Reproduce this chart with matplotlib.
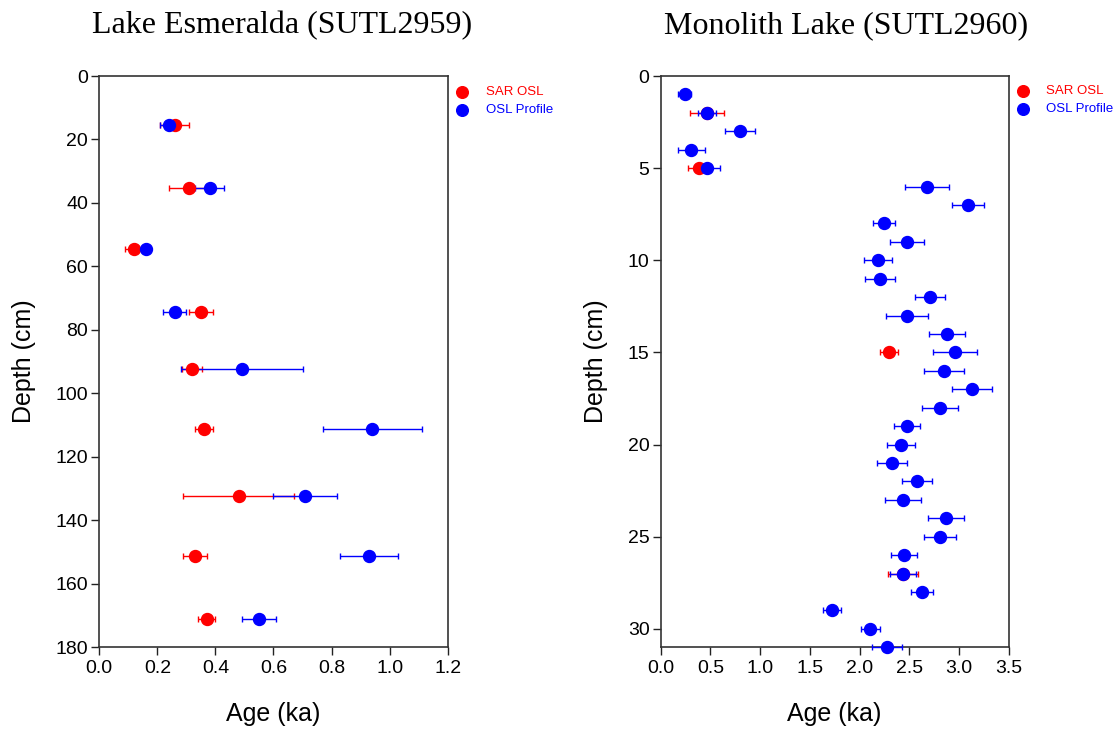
"""
Lake Esmeralda / Monolith Lake OSL ages vs depth
"""

import matplotlib
matplotlib.use("Agg")
import matplotlib.pyplot as plt

# Lake Esmeralda (SUTL2959)
esm_depth = [15.5, 35.4, 54.5, 74.5, 92.4, 111.3, 132.2, 151.2, 171.2]
esm_sar_age = [0.26, 0.31, 0.12, 0.35, 0.32, 0.36, 0.48, 0.33, 0.37]
esm_sar_err = [0.05, 0.07, 0.03, 0.04, 0.035, 0.03, 0.19, 0.04, 0.03]
esm_prof_age = [0.24, 0.38, 0.16, 0.26, 0.49, 0.94, 0.71, 0.93, 0.55]
esm_prof_err = [0.03, 0.05, 0.005, 0.04, 0.21, 0.17, 0.11, 0.10, 0.06]

# Monolith Lake (SUTL2960)
mon_prof_depth = list(range(1, 32))
mon_prof_age = [0.24, 0.47, 0.80, 0.31, 0.47, 2.68, 3.09, 2.25, 2.48, 2.19,
                2.21, 2.71, 2.48, 2.88, 2.96, 2.85, 3.13, 2.81, 2.48, 2.42,
                2.33, 2.58, 2.44, 2.87, 2.81, 2.45, 2.44, 2.63, 1.72, 2.11,
                2.28]
mon_prof_err = [0.07, 0.09, 0.15, 0.14, 0.13, 0.22, 0.16, 0.11, 0.17, 0.14,
                0.15, 0.15, 0.21, 0.18, 0.22, 0.20, 0.20, 0.18, 0.13, 0.14,
                0.15, 0.15, 0.18, 0.18, 0.16, 0.13, 0.13, 0.11, 0.09, 0.10,
                0.15]
mon_sar_depth = [2, 5, 15, 27]
mon_sar_age = [0.47, 0.39, 2.30, 2.44]
mon_sar_err = [0.17, 0.11, 0.09, 0.15]


def draw_panel(ax, sar, prof, xlim, xticks, ylim, yticks, xfmt):
    ms = 8.6
    for (age, depth, err), col in ((sar, "#ff0000"), (prof, "#0000ff")):
        ax.errorbar(age, depth, xerr=err, fmt="o", color=col, ms=ms,
                    mec=col, ecolor=col, elinewidth=1.0, capsize=2.4,
                    capthick=1.0, clip_on=False, zorder=3)
    ax.set_xlim(*xlim)
    ax.set_ylim(*ylim)
    ax.set_xticks(xticks)
    ax.set_xticklabels([xfmt.format(t) for t in xticks])
    ax.set_yticks(yticks)
    ax.tick_params(direction="out", length=6, width=1.0, labelsize=14,
                   colors="#222222", labelcolor="black")
    ax.tick_params(axis="y", pad=2)
    for sp in ax.spines.values():
        sp.set_linewidth(1.2)
        sp.set_color("#333333")
    ax.set_xlabel("Age (ka)", fontsize=18, labelpad=18)
    ax.set_ylabel("Depth (cm)", fontsize=18, labelpad=14)


def add_legend(fig, x_marker, x_text, y_top, y_bot):
    for y, col, lab in ((y_top, "#ff0000", "SAR OSL"),
                        (y_bot, "#0000ff", "OSL Profile")):
        fig.lines.append(plt.Line2D([x_marker], [y], marker="o", ms=8.4,
                                    color=col, transform=fig.transFigure,
                                    figure=fig))
        fig.text(x_text, y, lab, color=col, fontsize=9.5, va="center",
                 ha="left")


def main():
    plt.rcParams["font.family"] = ["Liberation Sans", "DejaVu Sans"]
    fig = plt.figure(figsize=(11.19, 7.31), dpi=100)

    ax1 = fig.add_axes([0.0887, 0.1145, 0.3114, 0.7815])
    ax2 = fig.add_axes([0.5904, 0.1145, 0.3110, 0.7815])

    draw_panel(ax1, (esm_sar_age, esm_depth, esm_sar_err),
               (esm_prof_age, esm_depth, esm_prof_err),
               (0, 1.2), [0, 0.2, 0.4, 0.6, 0.8, 1.0, 1.2],
               (180, 0), list(range(0, 181, 20)), "{:.1f}")
    draw_panel(ax2, (mon_sar_age, mon_sar_depth, mon_sar_err),
               (mon_prof_age, mon_prof_depth, mon_prof_err),
               (0, 3.5), [0, 0.5, 1.0, 1.5, 2.0, 2.5, 3.0, 3.5],
               (31.0, 0), [0, 5, 10, 15, 20, 25, 30], "{:.1f}")

    add_legend(fig, 462.3 / 1119, 486.5 / 1119, 1 - 92 / 731, 1 - 109.7 / 731)
    add_legend(fig, 1022.7 / 1119, 1046 / 1119, 1 - 91 / 731, 1 - 108.7 / 731)

    serif = ["Liberation Serif", "DejaVu Serif"]
    fig.text(282 / 1119, 1 - 33 / 731, "Lake Esmeralda (SUTL2959)",
             family=serif, fontsize=23, ha="center", va="baseline")
    fig.text(846 / 1119, 1 - 33 / 731, "Monolith Lake (SUTL2960)",
             family=serif, fontsize=23, ha="center", va="baseline")

    fig.savefig("out.png", dpi=100)


if __name__ == "__main__":
    main()
